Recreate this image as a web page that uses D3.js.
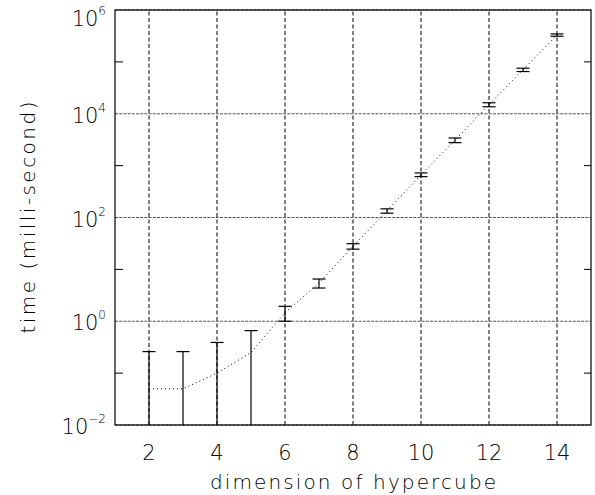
<!DOCTYPE html>
<html>
<head>
<meta charset="utf-8">
<script src="https://cdn.jsdelivr.net/npm/d3@7"></script>
<style>
  body { margin: 0; background: #fff; }
  svg { display: block; }
</style>
</head>
<body>
<svg id="chart"></svg>
<script>
// timing of hypercube runs, mean and std dev per dimension
var dims = [2, 3, 4, 5, 6, 7, 8, 9, 10, 11, 12, 13, 14];
var meanTime = [0.05, 0.05, 0.1, 0.25, 1.47, 5.44, 27.9, 134, 668, 3090, 14970, 70300, 328700];
var stdTime = [0.21, 0.21, 0.29, 0.41, 0.47, 1.07, 3.35, 12.9, 55, 320, 1330, 5200, 16700];

var xTicks = [2, 4, 6, 8, 10, 12, 14];
var yMajorExp = [-2, 0, 2, 4, 6];
var yMinorExp = [-1, 1, 3, 5];

var w = 595, h = 495;
var margin = { top: 10, right: 4, bottom: 70, left: 115 };
var fontFamily = "DejaVu Sans, sans-serif";

var svg = d3.select("#chart").attr("width", w).attr("height", h);

var x = d3.scaleLinear().domain([1, 15]).range([margin.left, w - margin.right]);
var y = d3.scaleLog().domain([1e-2, 1e6]).range([h - margin.bottom, margin.top]);

var x0 = x.range()[0], x1 = x.range()[1];
var yb = y.range()[0], yt = y.range()[1];

// grid lines
svg.append("g").selectAll("line")
    .data(xTicks)
    .join("line")
    .attr("x1", d => x(d)).attr("x2", d => x(d))
    .attr("y1", yb).attr("y2", yt)
    .attr("stroke", "#000")
    .attr("stroke-width", 1)
    .attr("stroke-dasharray", "4,2.5");

svg.append("g").selectAll("line")
    .data(yMajorExp)
    .join("line")
    .attr("x1", x0).attr("x2", x1)
    .attr("y1", d => y(Math.pow(10, d))).attr("y2", d => y(Math.pow(10, d)))
    .attr("stroke", "#555")
    .attr("stroke-width", 1)
    .attr("stroke-dasharray", "3,1.2");

// minor ticks on left and right
var minor = svg.append("g");
minor.selectAll("line.l")
    .data(yMinorExp)
    .join("line")
    .attr("class", "l")
    .attr("x1", x0).attr("x2", x0 + 8)
    .attr("y1", d => y(Math.pow(10, d))).attr("y2", d => y(Math.pow(10, d)))
    .attr("stroke", "#000");
minor.selectAll("line.r")
    .data(yMinorExp)
    .join("line")
    .attr("class", "r")
    .attr("x1", x1).attr("x2", x1 - 7)
    .attr("y1", d => y(Math.pow(10, d))).attr("y2", d => y(Math.pow(10, d)))
    .attr("stroke", "#000");

// dotted line through means
var line = d3.line()
    .x(d => x(d[0]))
    .y(d => y(d[1]));

svg.append("path")
    .datum(d3.zip(dims, meanTime))
    .attr("d", line)
    .attr("fill", "none")
    .attr("stroke", "#000")
    .attr("stroke-width", 1)
    .attr("stroke-dasharray", "1,3");

// error bars
var bars = d3.zip(dims, meanTime, stdTime).map(function (d) {
    var lo = d[1] - d[2];
    return {
        dim: d[0],
        hi: d[1] + d[2],
        lo: lo > y.domain()[0] ? lo : y.domain()[0]
    };
});

var capW = 6.5;
var eb = svg.append("g").attr("stroke", "#000").attr("stroke-width", 1.2);
eb.selectAll("line.v")
    .data(bars)
    .join("line")
    .attr("class", "v")
    .attr("x1", d => x(d.dim)).attr("x2", d => x(d.dim))
    .attr("y1", d => y(d.lo)).attr("y2", d => y(d.hi));
eb.selectAll("line.top")
    .data(bars)
    .join("line")
    .attr("class", "top")
    .attr("x1", d => x(d.dim) - capW).attr("x2", d => x(d.dim) + capW)
    .attr("y1", d => y(d.hi)).attr("y2", d => y(d.hi));
eb.selectAll("line.bot")
    .data(bars.filter(d => d.lo > y.domain()[0]))
    .join("line")
    .attr("class", "bot")
    .attr("x1", d => x(d.dim) - capW).attr("x2", d => x(d.dim) + capW)
    .attr("y1", d => y(d.lo)).attr("y2", d => y(d.lo));

// frame
svg.append("rect")
    .attr("x", x0).attr("y", yt)
    .attr("width", x1 - x0).attr("height", yb - yt)
    .attr("fill", "none")
    .attr("stroke", "#000")
    .attr("stroke-width", 1.2);

// x tick labels
svg.append("g").selectAll("text")
    .data(xTicks)
    .join("text")
    .attr("x", d => x(d))
    .attr("y", yb + 35)
    .attr("text-anchor", "middle")
    .attr("font-family", fontFamily)
    .attr("font-size", 21)
    .attr("font-weight", 200)
    .attr("fill", "#000")
    .text(d => d);

// y tick labels, 10 with superscript exponent (top one kept inside the page)
var yl = svg.append("g").selectAll("text")
    .data(yMajorExp)
    .join("text")
    .attr("x", 106)
    .attr("y", d => Math.max(y(Math.pow(10, d)) + 9, 26))
    .attr("text-anchor", "end")
    .attr("font-family", fontFamily)
    .attr("font-size", 21)
    .attr("font-weight", 200)
    .attr("fill", "#000");
yl.append("tspan").text("10");
yl.append("tspan")
    .attr("dy", -11)
    .attr("font-size", 12)
    .text(d => d < 0 ? "\u2212" + (-d) : d);

// axis titles
svg.append("text")
    .attr("x", (x0 + x1) / 2)
    .attr("y", h - 6)
    .attr("text-anchor", "middle")
    .attr("font-family", fontFamily)
    .attr("font-size", 20)
    .attr("font-weight", 200)
    .attr("textLength", 286)
    .attr("lengthAdjust", "spacing")
    .text("dimension of hypercube");

svg.append("text")
    .attr("transform", "translate(35," + (yb + yt) / 2 + ") rotate(-90)")
    .attr("text-anchor", "middle")
    .attr("font-family", fontFamily)
    .attr("font-size", 20)
    .attr("font-weight", 200)
    .attr("textLength", 232)
    .attr("lengthAdjust", "spacing")
    .text("time (milli-second)");
</script>
</body>
</html>
